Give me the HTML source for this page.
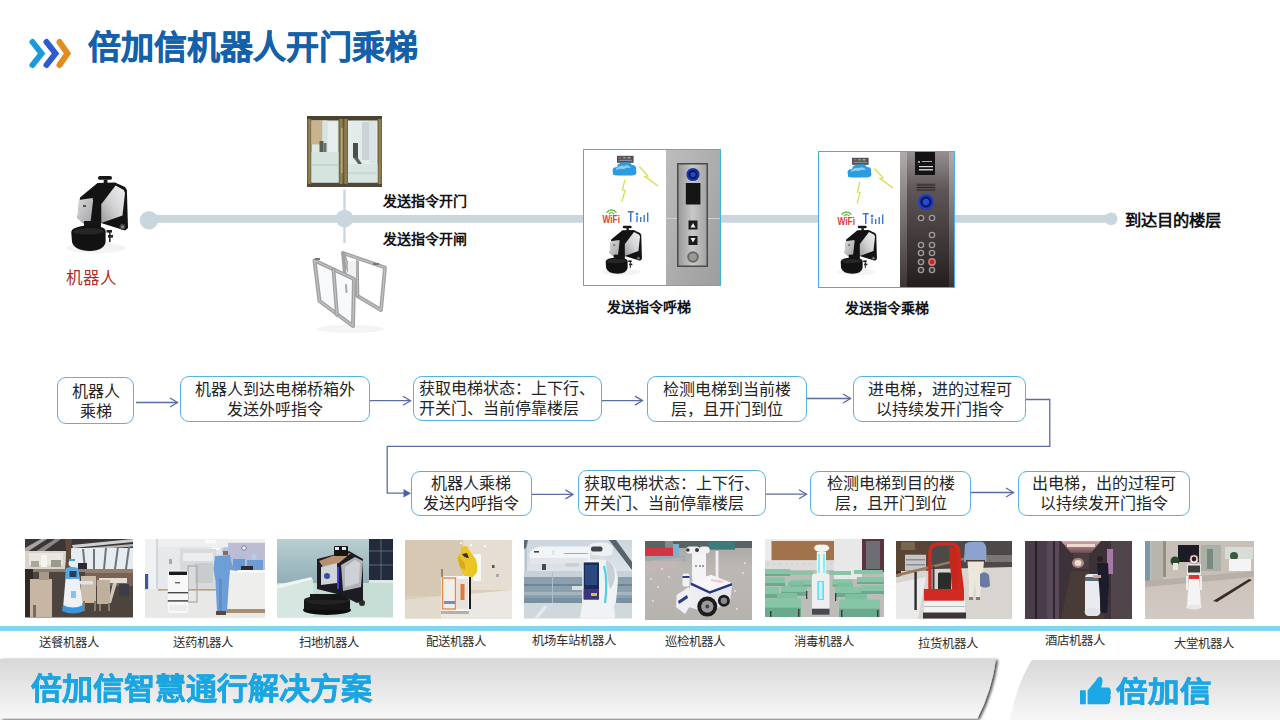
<!DOCTYPE html>
<html lang="zh-CN"><head><meta charset="utf-8">
<style>
*{margin:0;padding:0;box-sizing:border-box}
html,body{width:1280px;height:720px;overflow:hidden;background:#fff;font-family:"Liberation Sans",sans-serif;color:#1a1a1a}
.a{position:absolute}
.t{position:absolute;white-space:nowrap}
.box{position:absolute;padding-top:2.6px;border:1.6px solid #55b4da;border-radius:9px;background:#fff;display:flex;align-items:center;justify-content:center;text-align:center;font-size:16px;line-height:20px;color:#242424;white-space:nowrap}
.cap{position:absolute;white-space:nowrap;font-size:14px;line-height:16px;font-weight:bold;color:#111}
.lab{position:absolute;white-space:nowrap;font-size:12.4px;line-height:14px;color:#2e2e2e;margin:1.5px 0 0 -0.6px}
.ph{position:absolute;overflow:hidden}
</style></head><body>

<svg width="0" height="0" style="position:absolute">
<defs>
<filter id="soft" x="-0.05" y="-0.05" width="1.1" height="1.1"><feGaussianBlur stdDeviation="0.65"/></filter>
<linearGradient id="silv" x1="1" y1="0" x2="0" y2="1"><stop offset="0" stop-color="#f0f0f2"/><stop offset="0.5" stop-color="#d4d4d6"/><stop offset="1" stop-color="#9c9c9e"/></linearGradient>
<linearGradient id="silv2" x1="0" y1="0" x2="1" y2="1"><stop offset="0" stop-color="#d8d8da"/><stop offset="1" stop-color="#a4a4a6"/></linearGradient>
<symbol id="rob" viewBox="0 0 70 85">
  <ellipse cx="32" cy="78" rx="30" ry="5" fill="#f3f3f3"/>
  <rect x="34" y="6" width="14" height="3.8" rx="1.9" fill="#161616"/>
  <rect x="39.7" y="9.5" width="3.8" height="5.5" fill="#1e1e1e"/>
  <polygon points="16,27.4 33.5,13 51,12.4 61,17 62.9,20 64,58 61,60.5 37,53 36.75,57 22,57 19.4,53 13.5,48" fill="#131313"/>
  <polygon points="37.25,34.25 51.6,15.5 59.75,19.9 61,23 58.5,45.5 37.25,53" fill="url(#silv)"/>
  <polygon points="14.75,29.9 28.5,28 29.1,30.5 26.6,51.75 17.9,53 13.5,48" fill="url(#silv2)"/>
  <rect x="19" y="35" width="3" height="2" fill="#555"/>
  <rect x="20" y="51" width="17" height="9" fill="#161616"/>
  <path d="M7.25,62 Q8,56.5 24,55.5 Q41,55.5 41.6,61 L41.6,72 Q40,80.5 26,81 Q10,80.5 8,72 Z" fill="#121212"/>
  <path d="M9,62 Q10,58.5 24,58 Q39,58 40,61.5 Q38,64 24,64.5 Q10,64 9,62 Z" fill="#262626"/>
  <circle cx="58.5" cy="56.75" r="3" fill="#3c3c3c"/>
  <circle cx="58.5" cy="56.75" r="1.5" fill="#888"/>
  <rect x="42.5" y="60" width="5.5" height="2.6" fill="#222"/>
  <rect x="44" y="65" width="5" height="2.6" fill="#222"/>
  <rect x="45" y="62" width="1.6" height="10" fill="#2a2a2a"/>
</symbol>
<symbol id="cloudset" viewBox="0 0 80 80">
  <rect x="34" y="6.8" width="16.6" height="7" fill="#4a4f58"/>
  <rect x="35.5" y="8" width="3" height="1.5" fill="#e05050"/><rect x="40" y="8" width="3" height="1.5" fill="#50c060"/><rect x="44.5" y="8" width="3" height="1.5" fill="#e0a040"/>
  <rect x="35.5" y="10.8" width="13.5" height="1.2" fill="#8890a0"/>
  <path d="M30,24 Q28,18 34,18 Q35,13 41,14 Q46,11 49,16 Q54,16 53,21 Q55,26 49,26.5 L34,26.5 Q29,26.5 30,24 Z" fill="#2d9be0"/>
  <path d="M33,20 Q36,16 41,17 Q46,15 48,19 Q44,18 41,20 Q37,19 33,21 Z" fill="#8ad0f5"/>
  <polyline points="56.4,17.5 65,27 62,27.5 75,37" fill="none" stroke="#d4dc50" stroke-width="1.2"/>
  <polyline points="41.8,31 39.5,41 42,41.5 39,52.5" fill="none" stroke="#d4dc50" stroke-width="1.2"/>
  <text x="19.5" y="74" font-family="Liberation Sans" font-weight="bold" font-size="10.5" fill="#e0402a" textLength="17.5" lengthAdjust="spacingAndGlyphs">WiFi</text>
  <path d="M23.5,63.5 Q28.5,58.5 33.5,63.5" fill="none" stroke="#60c040" stroke-width="1.4"/>
  <path d="M25.8,65 Q28.5,62.3 31.2,65" fill="none" stroke="#60c040" stroke-width="1.2"/>
  <g fill="#3a78d0">
    <rect x="44.7" y="62" width="6" height="1.5"/><rect x="47" y="62" width="1.5" height="11"/>
    <circle cx="54" cy="65" r="1.3"/><rect x="53.3" y="67" width="1.4" height="6"/>
    <rect x="57" y="68" width="1.4" height="5"/><rect x="60.5" y="66" width="1.4" height="7"/><rect x="64" y="63.5" width="1.4" height="9.5"/>
  </g>
</symbol>
</defs></svg>

<!-- title chevrons -->
<svg class="a" style="left:0;top:0" width="1280" height="720" viewBox="0 0 1280 720">
  <g fill="none" stroke-width="6" stroke-linecap="round" stroke-linejoin="miter">
    <polyline points="32.5,42 41.5,53.5 32.5,65" stroke="#1d9bd7"/>
    <polyline points="46.5,42 55.5,53.5 46.5,65" stroke="#2f5ad0"/>
    <polyline points="59.5,42 67.5,53.5 59.5,65" stroke="#e38b1f"/>
  </g>
  <!-- timeline -->
  <rect x="149" y="215" width="962" height="7.8" fill="#c9d6de"/>
  <rect x="343.3" y="189.5" width="2.4" height="53.5" fill="#c9d6de"/>
  <circle cx="149" cy="220.2" r="9.2" fill="#c9d6de"/>
  <circle cx="344.5" cy="218.5" r="8.8" fill="#c9d6de"/>
  <circle cx="1111.2" cy="218.8" r="6.3" fill="#c9d6de"/>
  <!-- flow connectors -->
  <g stroke="#5a6da2" stroke-width="1.3" fill="none">
    <line x1="136" y1="402.5" x2="177.5" y2="402.5"/>
    <polyline points="170,398 177.5,402.5 170,407"/>
    <line x1="370" y1="400.7" x2="410.5" y2="400.7"/>
    <polyline points="403,396.2 410.5,400.7 403,405.2"/>
    <line x1="602" y1="400.6" x2="642.5" y2="400.6"/>
    <polyline points="635,396.1 642.5,400.6 635,405.1"/>
    <line x1="807" y1="398.5" x2="850.5" y2="398.5"/>
    <polyline points="843,394 850.5,398.5 843,403"/>
    <polyline points="1026,399.5 1049.8,399.5 1049.8,446.3 387.2,446.3 387.2,493.2 404,493.2"/>
    <line x1="531.5" y1="494.4" x2="573" y2="494.4"/>
    <polyline points="565.5,489.9 573,494.4 565.5,498.9"/>
    <line x1="766" y1="494.2" x2="806.5" y2="494.2"/>
    <polyline points="799,489.7 806.5,494.2 799,498.7"/>
    <line x1="971" y1="492.5" x2="1013.5" y2="492.5"/>
    <polyline points="1006,488 1013.5,492.5 1006,497"/>
  </g>
  <polygon points="403.5,489 411,493.2 403.5,497.4" fill="#4a62a8"/>
</svg>

<div class="t" style="left:88px;top:29.5px;font-size:33px;line-height:36px;font-weight:bold;color:#1461aa;-webkit-text-stroke:0.5px #1461aa">倍加信机器人开门乘梯</div>

<!-- images in timeline -->
<svg class="a" style="left:64px;top:170px" width="70" height="85"><use href="#rob"/></svg>
<div class="t" style="left:66px;top:268.5px;font-size:16.5px;line-height:18px;color:#b02a2a">机器人</div>
<svg class="a" style="left:307px;top:116px" width="75" height="71" viewBox="0 0 75 71">
  <defs><linearGradient id="brz" x1="0" y1="0" x2="1" y2="0"><stop offset="0" stop-color="#5e5232"/><stop offset="0.5" stop-color="#9a8a58"/><stop offset="1" stop-color="#6a5c38"/></linearGradient></defs>
  <rect width="75" height="71" fill="#6e6040"/>
  <rect x="0" y="0" width="75" height="4.5" fill="#4c4230"/>
  <rect x="0" y="66.5" width="75" height="4.5" fill="#52483a"/>
  <rect x="0" y="3" width="4.5" height="65" fill="url(#brz)"/>
  <rect x="70.5" y="3" width="4.5" height="65" fill="url(#brz)"/>
  <rect x="31.5" y="3" width="5" height="65" fill="url(#brz)"/>
  <rect x="36.5" y="3" width="4.5" height="65" fill="url(#brz)"/>
  <g filter="url(#soft)">
  <rect x="4.5" y="4.5" width="27" height="62" fill="#dce8e4"/>
  <rect x="4.5" y="4.5" width="11" height="24" fill="#c9b38c"/>
  <rect x="15.5" y="4.5" width="5" height="36" fill="#d8e2e2"/>
  <rect x="21" y="6" width="9" height="30" fill="#e6eeee"/>
  <rect x="4.5" y="36" width="27" height="30.5" fill="#d6e4e0"/>
  <rect x="4.5" y="48" width="27" height="2" fill="#c4d4d0"/>
  <rect x="12.5" y="25" width="4" height="11" fill="#5a5e56"/>
  <rect x="16.5" y="27" width="3" height="9" fill="#6e706a"/>
  <rect x="41" y="4.5" width="29.5" height="62" fill="#e2ecea"/>
  <rect x="55" y="6" width="7" height="38" fill="#c8d4d6"/>
  <rect x="62" y="5" width="7" height="42" fill="#dae4e6"/>
  <rect x="46" y="27" width="5" height="15" fill="#4e4e4c"/>
  <polygon points="46,41 51,42 55,48 52,49" fill="#5e5e5c"/>
  <rect x="41" y="48" width="29.5" height="18.5" fill="#d8e6e2"/>
  <rect x="41" y="56" width="29.5" height="2" fill="#c8d8d4"/>
  </g>
  <rect x="34" y="12" width="1.6" height="45" fill="#b8a878"/>
  <rect x="37.5" y="12" width="1.6" height="45" fill="#8a7a50"/>
</svg>
<svg class="a" style="left:305px;top:245px" width="90" height="90" viewBox="0 0 90 90">
  <ellipse cx="45" cy="84" rx="34" ry="4" fill="#f4f4f4"/>
  <g fill="none" stroke-linejoin="round" stroke-linecap="round">
    <polygon points="38,8 80,22.5 76,65 52.5,51" stroke="#a2a2a4" stroke-width="3.8"/>
    <polygon points="38,8 80,22.5 76,65 52.5,51" stroke="#c2c2c4" stroke-width="1.2"/>
    <line x1="38" y1="8" x2="41" y2="44" stroke="#a2a2a4" stroke-width="3.6"/>
    <line x1="52" y1="17" x2="52.5" y2="51" stroke="#9a9a9c" stroke-width="3.6"/>
    <line x1="52" y1="17" x2="52.5" y2="51" stroke="#c0c0c2" stroke-width="1.2"/>
  </g>
  <rect x="43" y="16" width="8" height="22" fill="#eef2f2"/>
  <g fill="none" stroke-linejoin="round" stroke-linecap="round">
    <polygon points="9.5,15.5 49,34 48,81 14.5,56" fill="#f8f9fa" stroke="#a0a0a2" stroke-width="4"/>
    <polygon points="9.5,15.5 49,34 48,81 14.5,56" stroke="#c4c4c6" stroke-width="1.2"/>
    <line x1="28.5" y1="25" x2="32" y2="70" stroke="#a0a0a2" stroke-width="3.8"/>
    <line x1="28.5" y1="25" x2="32" y2="70" stroke="#c4c4c6" stroke-width="1.2"/>
    <line x1="41" y1="40" x2="41.5" y2="47" stroke="#a8a8a8" stroke-width="2"/>
  </g>
  <rect x="10" y="13" width="5" height="2" fill="#777"/>
  <rect x="68" y="18" width="6" height="2" fill="#777"/>
</svg>
<div class="cap" style="left:383px;top:193px">发送指令开门</div>
<div class="cap" style="left:383px;top:231px">发送指令开闸</div>

<div class="a" style="left:583px;top:149px;width:138px;height:137px;border:1.5px solid #43b3dc;background:#fff;overflow:hidden">
  <svg class="a" style="left:-1px;top:-1px" width="80" height="80"><use href="#cloudset"/></svg>
  <svg class="a" style="left:82px;top:-2.5px" width="56" height="140" viewBox="0 0 56 140">
    <defs><linearGradient id="wg1" x1="0" y1="0" x2="1" y2="1"><stop offset="0" stop-color="#bdbdbd"/><stop offset="1" stop-color="#9c9c9c"/></linearGradient>
    <linearGradient id="pg1" x1="0" y1="0" x2="1" y2="0"><stop offset="0" stop-color="#9a9a9a"/><stop offset="0.5" stop-color="#c8c8c8"/><stop offset="1" stop-color="#a4a4a4"/></linearGradient></defs>
    <rect width="56" height="140" fill="url(#wg1)"/>
    <rect x="0" y="70" width="56" height="1" fill="#d0d0d0"/>
    <rect x="11" y="15" width="31" height="104" fill="#4a4a4a"/>
    <rect x="12.5" y="16.5" width="28" height="101" fill="url(#pg1)"/>
    <circle cx="27" cy="26.5" r="6.6" fill="#1838a8"/>
    <circle cx="27" cy="26.5" r="4.6" fill="#0a1860"/>
    <circle cx="27" cy="26.5" r="2.6" fill="#2848c0"/>
    <rect x="19.8" y="35" width="14.6" height="21.5" fill="#151515"/>
    <rect x="22.5" y="72.5" width="9" height="9" fill="#1a1a1a"/>
    <polygon points="24.5,79.5 27,75 29.5,79.5" fill="#f0f0f0"/>
    <rect x="22.5" y="88" width="9" height="9" fill="#1a1a1a"/>
    <polygon points="24.5,90 27,94.5 29.5,90" fill="#f0f0f0"/>
    <circle cx="27" cy="109" r="5.8" fill="#6a6a6a"/>
    <circle cx="27" cy="109" r="3.8" fill="#9a9a90"/>
  </svg>
  <svg class="a" style="left:16.5px;top:71.5px" width="44.8" height="54.4" viewBox="0 0 70 85"><use href="#rob"/></svg>
</div>
<div class="cap" style="left:607px;top:299px">发送指令呼梯</div>
<div class="a" style="left:818px;top:151px;width:137px;height:137px;border:1.5px solid #43b3dc;background:#fff;overflow:hidden">
  <svg class="a" style="left:-1px;top:-1px" width="80" height="80"><use href="#cloudset"/></svg>
  <svg class="a" style="left:81px;top:-4px" width="56" height="142" viewBox="0 0 56 142">
    <defs><linearGradient id="dg2" x1="0" y1="0" x2="0" y2="1"><stop offset="0" stop-color="#9a9494"/><stop offset="0.3" stop-color="#5e5656"/><stop offset="1" stop-color="#221c1c"/></linearGradient>
    <linearGradient id="sg2" x1="0" y1="0" x2="0" y2="1"><stop offset="0" stop-color="#b4aeae"/><stop offset="1" stop-color="#3a3232"/></linearGradient></defs>
    <rect width="56" height="142" fill="url(#dg2)"/>
    <rect x="0" y="0" width="7" height="142" fill="url(#sg2)"/>
    <rect x="49" y="0" width="7" height="142" fill="url(#sg2)"/>
    <rect x="15" y="3" width="20" height="24" fill="#141414"/>
    <circle cx="19" cy="14" r="1" fill="#ccc"/><rect x="22" y="13" width="10" height="1" fill="#aaa"/><rect x="19" y="18" width="14" height="1.2" fill="#d8d8d8"/><rect x="19" y="21" width="14" height="1.5" fill="#c8c8c8"/>
    <rect x="16" y="35" width="20" height="9" fill="#5a5454"/><g fill="#2a2626"><rect x="17" y="36.5" width="18" height="1"/><rect x="17" y="39" width="18" height="1"/><rect x="17" y="41.5" width="18" height="1"/></g>
    <circle cx="26" cy="54" r="8" fill="#2040c0"/>
    <circle cx="26" cy="54" r="5.8" fill="#0c1a6a"/>
    <circle cx="26" cy="54" r="3.2" fill="#2a4ad0"/>
    <circle cx="21" cy="70" r="3.3" fill="#a09a94"/><circle cx="21" cy="70" r="1.9" fill="#3a3434"/><circle cx="32" cy="70" r="3.3" fill="#a09a94"/><circle cx="32" cy="70" r="1.9" fill="#3a3434"/><circle cx="32" cy="87" r="3.3" fill="#a09a94"/><circle cx="32" cy="87" r="1.9" fill="#3a3434"/><circle cx="21" cy="97" r="3.3" fill="#a09a94"/><circle cx="21" cy="97" r="1.9" fill="#3a3434"/><circle cx="32" cy="97" r="3.3" fill="#a09a94"/><circle cx="32" cy="97" r="1.9" fill="#3a3434"/><circle cx="21" cy="105" r="3.3" fill="#a09a94"/><circle cx="21" cy="105" r="1.9" fill="#3a3434"/><circle cx="32" cy="105" r="3.3" fill="#a09a94"/><circle cx="32" cy="105" r="1.9" fill="#3a3434"/><circle cx="21" cy="114" r="3.3" fill="#a09a94"/><circle cx="21" cy="114" r="1.9" fill="#3a3434"/><circle cx="21" cy="122" r="3.3" fill="#a09a94"/><circle cx="21" cy="122" r="1.9" fill="#3a3434"/><circle cx="32" cy="122" r="3.3" fill="#a09a94"/><circle cx="32" cy="122" r="1.9" fill="#3a3434"/>
    <circle cx="32" cy="114" r="3.9" fill="#d08080"/><circle cx="32" cy="114" r="2.4" fill="#c02828"/>
  </svg>
  <svg class="a" style="left:16.5px;top:70px" width="44.8" height="54.4" viewBox="0 0 70 85"><use href="#rob"/></svg>
</div>
<div class="cap" style="left:845px;top:300px">发送指令乘梯</div>
<div class="t" style="left:1125px;top:211.3px;font-size:16.3px;line-height:18px;font-weight:bold;color:#111">到达目的楼层</div>

<!-- flowchart boxes -->
<div class="box" style="left:57px;top:377px;width:77px;height:46.5px">机器人<br>乘梯</div>
<div class="box" style="left:180px;top:376px;width:190px;height:45.5px">机器人到达电梯桥箱外<br>发送外呼指令</div>
<div class="box" style="left:413px;top:375.5px;width:189px;height:45px;justify-content:flex-start;padding-left:5px;text-align:left">获取电梯状态：上下行、<br>开关门、当前停靠楼层</div>
<div class="box" style="left:647px;top:376px;width:160px;height:45.5px">检测电梯到当前楼<br>层，且开门到位</div>
<div class="box" style="left:853px;top:376px;width:173px;height:45.5px">进电梯，进的过程可<br>以持续发开门指令</div>
<div class="box" style="left:411px;top:470.5px;width:120.5px;height:45px">机器人乘梯<br>发送内呼指令</div>
<div class="box" style="left:577.5px;top:469.5px;width:188.5px;height:46px;justify-content:flex-start;padding-left:5px;text-align:left">获取电梯状态：上下行、<br>开关门、当前停靠楼层</div>
<div class="box" style="left:810px;top:470.5px;width:161px;height:45px">检测电梯到目的楼<br>层，且开门到位</div>
<div class="box" style="left:1018px;top:470.5px;width:172px;height:45px">出电梯，出的过程可<br>以持续发开门指令</div>

<!-- photo strip -->
<svg class="a" style="left:25px;top:539px" width="108" height="78.5" viewBox="0 0 108 78.5" preserveAspectRatio="none"><g filter="url(#soft)">
<rect width="108" height="78.5" fill="#4e443c"/>
<rect width="108" height="13" fill="#3a3634"/>
<polygon points="0,9 16,0 22,0 2,13 0,13" fill="#a8a6a4"/>
<polygon points="10,13 30,0 36,0 18,13" fill="#8a8886"/>
<polygon points="47,6 108,0 108,3 48,9" fill="#d0d0d0"/>
<polygon points="48,10 108,5 108,7.5 49,12" fill="#b8b8b8"/>
<rect x="0" y="12" width="44" height="19" fill="#d8d4cc"/>
<rect x="4" y="14" width="34" height="12" fill="#ebe6de"/>
<rect x="6" y="22" width="8" height="6" fill="#a8a89a"/><rect x="26" y="21" width="10" height="7" fill="#9a9a8c"/><rect x="16" y="16" width="6" height="12" fill="#f4f4f0"/>
<rect x="44" y="9" width="64" height="22" fill="#e6ecf0"/>
<g fill="#70747a"><polygon points="57,10 59,10 61,30 59,30"/><polygon points="68,10 70,10 70,30 68,30"/><polygon points="80,9 82,9 80,30 78,30"/><polygon points="92,8 94,8 91,30 89,30"/><polygon points="103,8 105,8 102,30 100,30"/></g>
<rect x="53" y="24" width="9" height="6" fill="#2a2a30"/>
<path d="M40,0 L47,0 Q45,15 47,30 L40,30 Q42,15 40,0 Z" fill="#5e4a3a"/>
<rect x="0" y="30" width="108" height="3" fill="#8e7e70"/>
<rect x="60" y="31" width="48" height="16" fill="#7a6252"/>
<rect x="60" y="31" width="48" height="3" fill="#927e6c"/>
<rect x="74" y="39" width="28" height="5" fill="#e2dcd4"/>
<polygon points="88,44 92,44 86,64 83,64" fill="#cfc6bc"/>
<rect x="94" y="45" width="10" height="12" fill="#3e3e4a"/>
<rect x="0" y="30" width="8" height="48" fill="#2e2a28"/>
<rect x="5" y="40" width="22" height="38" fill="#c6b6a2"/>
<rect x="8" y="66" width="3" height="12" fill="#7a6a5a"/>
<rect x="14" y="33" width="10" height="8" fill="#a89888"/>
<rect x="56" y="37" width="15" height="27" fill="#cbbcaa"/>
<rect x="58" y="62" width="2" height="10" fill="#8a7a6a"/><rect x="69" y="62" width="2" height="10" fill="#8a7a6a"/>
<rect x="72" y="41" width="13" height="24" fill="#bfb09e"/>
<rect x="74" y="65" width="2" height="7" fill="#8a7a6a"/><rect x="83" y="64" width="2" height="8" fill="#8a7a6a"/>
<circle cx="47" cy="24.5" r="3.4" fill="#e8eef4"/>
<rect x="44" y="20" width="6" height="2" fill="#4a9ee0"/>
<path d="M41,29 Q47,27 53,29 L55,40 L40,40 Z" fill="#58a8e8"/>
<rect x="44.5" y="32" width="7" height="6" fill="#2a3a58"/>
<path d="M40.5,40 L54.5,40 L58,69 L38,69 Z" fill="#eef2f6"/>
<path d="M38,66 Q48,71 58,66 L59,72 Q48,77 37,72 Z" fill="#3a96dc"/>
<rect x="46" y="52" width="5" height="7" fill="#8ac0ec"/>
<rect x="54" y="42" width="14" height="3.5" fill="#dfe3e8"/>
</g></svg>
<svg class="a" style="left:145px;top:539px" width="120" height="78.5" viewBox="0 0 120 78.5" preserveAspectRatio="none"><g filter="url(#soft)">
<rect width="120" height="78.5" fill="#e2e4e6"/>
<rect width="120" height="8" fill="#eeeff0"/>
<rect x="60" y="1" width="10.7" height="3.4" fill="#fbfbfb"/>
<rect x="67" y="8.5" width="8" height="2.4" fill="#fafafa"/>
<rect x="0" y="0" width="12" height="78.5" fill="#f0f1f2"/>
<rect x="11" y="0" width="2" height="60" fill="#d4d6d8"/>
<rect x="0" y="35" width="3.2" height="21" fill="#3a5a9a"/>
<rect x="13" y="8" width="22" height="44" fill="#e6e8ea"/>
<rect x="24" y="20" width="3" height="5" fill="#a8a8b4"/>
<rect x="35" y="10" width="36" height="40" fill="#d8dadc"/>
<rect x="38" y="14" width="30" height="8" fill="#eceeee"/>
<rect x="50" y="24" width="18" height="20" fill="#c8cccc"/>
<rect x="83" y="3.8" width="37" height="28" fill="#bcbcd4"/>
<circle cx="99" cy="9" r="2.2" fill="#f4f4f8" stroke="#5a5a7a" stroke-width="0.7"/>
<rect x="0" y="50" width="120" height="28.5" fill="#e8e8e6"/>
<rect x="13" y="50" width="58" height="1.6" fill="#b8a080"/>
<circle cx="95" cy="16.5" r="2.6" fill="#a8c0e0"/>
<circle cx="109" cy="18" r="3" fill="#b8cce4"/>
<rect x="88" y="20" width="12" height="12" fill="#6a98d0"/>
<rect x="102" y="21" width="16" height="11" fill="#6e9cd4"/>
<rect x="96" y="27" width="12" height="5" fill="#2a2a34"/>
<rect x="81" y="31.5" width="39" height="40" fill="#eeeeec"/>
<rect x="81" y="31" width="39" height="2.5" fill="#fafafa"/>
<rect x="81" y="70" width="39" height="4" fill="#a88e70"/>
<circle cx="80.5" cy="11.8" r="3.6" fill="#b0c6e4"/>
<rect x="78" y="12" width="5" height="4" fill="#8a6a58"/>
<path d="M70,17 L85,16 L87,26 L93,29 L92,32 L85,31 L84,42 L82,73 L72,73 L70.5,42 L68.5,30 Z" fill="#6e9ed8"/>
<rect x="74" y="40" width="3" height="33" fill="#5e8ec8"/>
<rect x="71" y="72" width="10" height="4" fill="#5a4a3e"/>
<rect x="43" y="27" width="9" height="36" fill="none" stroke="#a8a8a8" stroke-width="1.2"/>
<rect x="22.8" y="31.5" width="20.2" height="42.5" rx="2.5" fill="#f8f8f8"/>
<rect x="24" y="32.6" width="18" height="3.4" fill="#1e1e1e"/>
<rect x="22.8" y="53" width="20.2" height="1.4" fill="#4a4a4a"/>
<rect x="22.8" y="61.2" width="20.2" height="1.4" fill="#3a3a3a"/>
<rect x="30" y="43" width="5" height="1.4" fill="#666"/>
<rect x="24" y="66" width="18" height="6" fill="#ececec"/>
</g></svg>
<svg class="a" style="left:277px;top:539px" width="116" height="78.5" viewBox="0 0 116 78.5" preserveAspectRatio="none"><defs><linearGradient id="p3w" x1="0" y1="0" x2="0" y2="1"><stop offset="0" stop-color="#b9cfd0"/><stop offset="1" stop-color="#92aeb8"/></linearGradient></defs><g filter="url(#soft)">
<rect width="116" height="78.5" fill="#c6ddd6"/>
<rect width="116" height="44" fill="url(#p3w)"/>
<polygon points="0,46 34,38 36,41 0,50" fill="#eef4f2"/>
<polygon points="0,50 36,41 36,78.5 0,78.5" fill="#d6e6e0"/>
<rect x="92" y="0" width="24" height="41" fill="#222a3a"/>
<g stroke="#8090a0" stroke-width="0.6"><line x1="92" y1="12" x2="116" y2="12"/><line x1="92" y1="26" x2="116" y2="26"/><line x1="104" y1="0" x2="104" y2="41"/></g>
<rect x="92" y="41" width="24" height="3" fill="#dce8e6"/>
<ellipse cx="50" cy="71" rx="24" ry="5" fill="#111"/>
<rect x="27" y="61" width="46" height="10" fill="#141414"/>
<ellipse cx="50" cy="61" rx="23" ry="4.5" fill="#222"/>
<rect x="33" y="55" width="38" height="6" fill="#181818"/>
<polygon points="40,20 72,12 86,20 86,62 80,64 64,56 40,50" fill="#1a1a22"/>
<polygon points="64,26 78,18 86,22 84,48 66,52" fill="#b0b4b8"/>
<polygon points="68,28 78,21 83,24 82,44 68,48" fill="#cdd0d4"/>
<polygon points="42,22 58,16 74,14 62,24 46,28" fill="#b89070"/>
<polygon points="44,28 60,24 60,44 44,46" fill="#d0d4d8"/>
<circle cx="50" cy="37" r="3" fill="#3050a0"/>
<rect x="60" y="28" width="2" height="22" fill="#4040e0"/>
<rect x="57" y="7" width="14" height="10" rx="1" fill="#161616"/>
<rect x="58" y="8" width="4" height="3" fill="#e8e8e8"/><rect x="65" y="8" width="4" height="3" fill="#e8e8e8"/>
<circle cx="85" cy="64" r="3" fill="#2a2a2a"/>
</g></svg>
<svg class="a" style="left:405px;top:540px" width="107" height="78.5" viewBox="0 0 107 78.5" preserveAspectRatio="none"><g filter="url(#soft)">
<rect width="107" height="78.5" fill="#dccfba"/>
<rect x="0" y="0" width="60" height="56" fill="#d6c8b2"/>
<rect x="58" y="0" width="49" height="50" fill="#e6ded2"/>
<circle cx="66" cy="5" r="1.2" fill="#fff"/><circle cx="80" cy="6" r="1" fill="#fff"/><circle cx="56" cy="3" r="1" fill="#fff"/>
<rect x="68" y="14" width="8" height="27" fill="#f8f8f4"/>
<rect x="87" y="25" width="2.5" height="3" fill="#555"/>
<rect x="91" y="34" width="3" height="3" fill="#aaa"/>
<polygon points="0,60 107,50 107,78.5 0,78.5" fill="#ebe7e2"/>
<polygon points="0,60 36,56 36,78.5 0,78.5" fill="#e2dacd"/>
<rect x="62" y="36" width="4" height="33" fill="#1e1e1e"/>
<path d="M56,12 Q55,6 59,6 Q63,6 64,10 L70,18 Q73,22 72,32 L68,37 L60,37 Q55,30 54,22 Q50,18 54,15 Z" fill="#e9c625"/>
<path d="M54,16 L60,24 L60,30 L56,28 Q52,22 54,16 Z" fill="#d6ac1c"/>
<path d="M57,14 Q59,18 64,18 L62,13 Z" fill="#3a3020"/>
<rect x="36" y="36" width="28" height="36" rx="1" fill="#f6f6f6"/>
<rect x="37.5" y="38" width="13" height="31" fill="#f2eeea" stroke="#e88848" stroke-width="1.4"/>
<rect x="52" y="39" width="11" height="30" fill="#e6e2de"/>
<rect x="55.5" y="44" width="4" height="16" fill="#e07838"/>
<rect x="39" y="61" width="11" height="3" fill="#6f8fc0"/>
<rect x="36" y="71" width="28" height="3" fill="#b8b0a8"/>
<rect x="36" y="29" width="2" height="8" fill="#888"/>
</g></svg>
<svg class="a" style="left:524px;top:540px" width="108" height="78.5" viewBox="0 0 108 78.5" preserveAspectRatio="none"><defs><linearGradient id="p5s" x1="0" y1="0" x2="0" y2="1"><stop offset="0" stop-color="#cdd5dd"/><stop offset="1" stop-color="#dde3e8"/></linearGradient></defs><g filter="url(#soft)">
<rect width="108" height="78.5" fill="#d0d8dc"/>
<rect width="108" height="31" fill="url(#p5s)"/>
<polygon points="0,0 4,0 2,9 0,9" fill="#5a6a78"/>
<rect x="1" y="8" width="2" height="24" fill="#b8c4cc"/>
<polygon points="85,0 92,0 108,22 108,30" fill="#55636e"/>
<path d="M5,15.5 Q6,8.5 16,6.5 L66,6.5 L66,24 L18,24 Q6,22.5 5,15.5 Z" fill="#f2f4f6"/>
<rect x="10" y="11" width="5" height="1.6" fill="#3a4450"/>
<rect x="28" y="10" width="2.5" height="5" fill="#dfe3e6"/>
<rect x="40" y="13" width="24" height="1" fill="#a0aab4"/>
<rect x="6" y="18" width="58" height="6" fill="#e2e6ea"/>
<rect x="41" y="23" width="14" height="3.5" rx="1.7" fill="#c8d0d6"/>
<rect x="18" y="24" width="4" height="6" fill="#404a54"/>
<rect x="0" y="31" width="108" height="6" fill="#c9d1d8"/>
<rect x="0" y="37" width="108" height="26" fill="#8aa0ae"/>
<rect x="0" y="44" width="108" height="2" fill="#6e8494"/>
<rect x="0" y="52" width="108" height="3" fill="#a4b6c2"/>
<rect x="0" y="58" width="108" height="5" fill="#7890a0"/>
<rect x="28" y="32" width="1" height="31" fill="#b0bec8"/>
<rect x="48" y="46" width="16" height="4" fill="#d8dee2"/>
<polygon points="10,78.5 20,66 24,66 14,78.5" fill="#e6eaec"/>
<path d="M66,4 Q70,2 80,2.5 Q89,3.5 89,9 L88,15 Q80,17 68,15.5 Q65,10 66,4 Z" fill="#eef0f2"/>
<rect x="67" y="6.5" width="11.5" height="5" rx="2" fill="#3c4650"/>
<rect x="68" y="15.5" width="9" height="5" fill="#d8dcdf"/>
<path d="M60,21 Q70,18 82,20 Q92,22 94,40 L92,62 L90,66 L91,78.5 L56,78.5 L58,64 L58.5,24 Z" fill="#f0f2f4"/>
<rect x="59.7" y="22.4" width="15.3" height="37" fill="#1c2c5a"/>
<rect x="61" y="25" width="12" height="20" fill="#2a4a80"/>
<rect x="59.7" y="49" width="15.3" height="10.5" fill="#3a3680"/>
<rect x="67" y="53" width="6" height="3" fill="#d8c040"/>
<path d="M82,20 Q91,23 91,36 Q90,46 86,49 Q83,40 82,20 Z" fill="#c8d0d6"/>
<path d="M80,26 Q84,40 81,63" fill="none" stroke="#48d0e8" stroke-width="2.2"/>
</g></svg>
<svg class="a" style="left:645px;top:541px" width="107" height="79" viewBox="0 0 107 79" preserveAspectRatio="none"><defs><linearGradient id="p6f" x1="0" y1="0" x2="0" y2="1"><stop offset="0" stop-color="#a8a6a4"/><stop offset="0.35" stop-color="#bcb8b4"/><stop offset="1" stop-color="#b6b2ae"/></linearGradient></defs><g filter="url(#soft)">
<rect width="107" height="79" fill="url(#p6f)"/>
<rect width="107" height="7" fill="#5a6464"/>
<rect x="63" y="0.7" width="27" height="8" fill="#3c7a7c"/>
<rect x="20" y="0" width="8" height="7" fill="#8a8a8a"/>
<rect x="0" y="6.6" width="33" height="8.4" fill="#d43444"/>
<rect x="28" y="3" width="6" height="12" fill="#7ab0d0"/>
<rect x="0" y="15" width="40" height="5" fill="#9aa8b0"/>
<polygon points="0,20 40,16 30,28 0,30" fill="#c4b8b4" opacity="0.6"/>
<g fill="#e8e8e8"><circle cx="6" cy="38" r="0.9"/><circle cx="13" cy="46" r="0.9"/><circle cx="24" cy="36" r="0.9"/><circle cx="90" cy="50" r="0.9"/><circle cx="98" cy="32" r="0.9"/><circle cx="8" cy="60" r="0.9"/><circle cx="17" cy="28" r="0.9"/><circle cx="92" cy="68" r="0.9"/><circle cx="100" cy="22" r="0.9"/></g>
<rect x="70.6" y="10" width="2.8" height="31" fill="#f4eef4"/>
<rect x="47" y="11" width="14" height="29" rx="2" fill="#f4f4f6"/>
<circle cx="51" cy="25" r="0.8" fill="#333"/><circle cx="55" cy="25" r="0.8" fill="#333"/><circle cx="58" cy="25" r="0.8" fill="#333"/>
<rect x="54" y="5.4" width="10.7" height="7" rx="3.5" fill="#f2f2f4"/>
<rect x="41" y="5.4" width="14" height="7" rx="3.5" fill="#f0f0f2"/>
<circle cx="42.8" cy="9" r="1.8" fill="#38384a"/><circle cx="52" cy="9" r="2" fill="#38384a"/>
<polygon points="45.8,40.8 65.9,33.8 87,42 64.7,50.3" fill="#f6f6f8"/>
<polygon points="66,38 80,40 76,42 66,40" fill="#f0c8d0"/>
<polygon points="45.8,43 64.7,51.5 64,72 40,65" fill="#eeeef2"/>
<polygon points="64.7,51.5 87,44.4 85,61 64,71" fill="#e6e6ec"/>
<polygon points="45.8,41.5 64.7,50.3 87,42 87,44.6 64.7,52.8 45.8,44" fill="#24348a"/>
<rect x="37.5" y="32.6" width="7" height="13" rx="2" fill="#f2f2f4"/>
<rect x="37.5" y="35" width="7" height="2" fill="#2a3a88"/>
<polygon points="31.6,54 44,46 48,60 40,73 31,66" fill="#f0f0f4"/>
<polygon points="33,60 42,54 43,57 34,63" fill="#2a3a88"/>
<circle cx="62.3" cy="65.6" r="10" fill="#1a1a1a"/>
<circle cx="62.3" cy="65.6" r="6.2" fill="#9a9a9e"/>
<circle cx="62.3" cy="65.6" r="2" fill="#444"/>
<circle cx="78.9" cy="59.7" r="6" fill="#1c1c1c"/>
<circle cx="78.9" cy="59.7" r="3.2" fill="#8a8a8a"/>
</g></svg>
<svg class="a" style="left:765px;top:539px" width="119" height="78" viewBox="0 0 119 78" preserveAspectRatio="none"><g filter="url(#soft)">
<rect width="119" height="78" fill="#bcbcb8"/>
<rect x="0" y="0" width="119" height="22" fill="#ecebea"/>
<rect x="6.5" y="2" width="62.5" height="19.4" fill="#a2724c"/>
<rect x="69" y="0" width="28" height="40" fill="#e8e8e8"/>
<rect x="97" y="0" width="22" height="33" fill="#5a3440"/>
<rect x="101" y="2" width="14" height="28" fill="#6e6c74"/>
<rect x="0" y="21.4" width="69" height="9.6" fill="#dcdcdc"/>
<g fill="#c4c4c4"><circle cx="3" cy="25" r="0.7"/><circle cx="9" cy="25" r="0.7"/><circle cx="15" cy="25" r="0.7"/><circle cx="21" cy="25" r="0.7"/><circle cx="27" cy="25" r="0.7"/><circle cx="33" cy="25" r="0.7"/><circle cx="39" cy="25" r="0.7"/><circle cx="45" cy="25" r="0.7"/><circle cx="66" cy="25" r="0.7"/></g>
<g fill="#86c6a6">
<rect x="0" y="30" width="25" height="5"/><rect x="0" y="38" width="20" height="6"/><rect x="0" y="48" width="14" height="7"/>
<rect x="20" y="32" width="28" height="4"/><rect x="25" y="40.7" width="21" height="4.8"/><rect x="16" y="46.8" width="26" height="6"/>
<rect x="0" y="59.5" width="36" height="9"/>
<rect x="64" y="32" width="22" height="4"/><rect x="67.5" y="40.7" width="19.5" height="4.8"/><rect x="70" y="48" width="26.5" height="6"/>
<rect x="74" y="60.6" width="41" height="9"/>
<rect x="89" y="31" width="29" height="4"/><rect x="92" y="38" width="27" height="5"/><rect x="96" y="46" width="23" height="6"/>
</g>
<g fill="#6aaa8c">
<rect x="0" y="35" width="25" height="2"/><rect x="0" y="44" width="20" height="3"/><rect x="0" y="55" width="14" height="4"/>
<rect x="25" y="45.5" width="21" height="2"/><rect x="16" y="52.8" width="26" height="4"/>
<rect x="0" y="68.5" width="36" height="9.5"/>
<rect x="67.5" y="45.5" width="19.5" height="2"/><rect x="70" y="54" width="26.5" height="4"/>
<rect x="74" y="69.6" width="41" height="8.4"/>
<rect x="92" y="43" width="27" height="2"/><rect x="96" y="52" width="23" height="3"/>
</g>
<g fill="#7ebfa0"><rect x="12" y="54" width="20" height="5.5"/><rect x="80" y="55" width="22" height="5.6"/><rect x="23" y="43" width="16" height="3.8"/><rect x="72" y="44" width="16" height="4"/></g>
<g fill="#3a3a3a"><rect x="5" y="72" width="1.5" height="6"/><rect x="33" y="70" width="1.5" height="8"/><rect x="76" y="71" width="1.5" height="7"/><rect x="112" y="71" width="1.5" height="7"/><rect x="41" y="52" width="1.3" height="8"/><rect x="70" y="54" width="1.3" height="8"/></g>
<rect x="47" y="34.7" width="17.5" height="36" rx="2" fill="#eef0f0"/>
<rect x="51.8" y="13" width="9.2" height="22" fill="#f2f4f4"/>
<rect x="53" y="15" width="2" height="19" fill="#7ef0f4"/>
<rect x="58" y="15" width="2" height="19" fill="#7ef0f4"/>
<path d="M49,9 Q50,5 56.5,5.7 Q63,5 64.5,9 Q63,13 56.5,13 Q50,13 49,9 Z" fill="#f4f4f4"/>
<rect x="52.4" y="42" width="6.6" height="19" fill="#64d8f8"/>
<rect x="54" y="43" width="3.4" height="17" fill="#c0f6ff"/>
<rect x="47" y="69.7" width="17.5" height="6" fill="#4a4a52"/>
</g></svg>
<svg class="a" style="left:896px;top:541px" width="116" height="78" viewBox="0 0 116 78" preserveAspectRatio="none"><g filter="url(#soft)">
<rect width="116" height="78" fill="#dad6d2"/>
<rect width="116" height="28" fill="#4e4846"/>
<rect x="0" y="0" width="34" height="30" fill="#5a4434"/>
<rect x="5" y="1" width="14" height="8" fill="#7a6650"/>
<rect x="9" y="13.7" width="21" height="16" fill="#c4c6c8"/>
<rect x="10" y="18" width="19" height="1.5" fill="#8a8e94"/><rect x="10" y="23" width="19" height="1.5" fill="#8a8e94"/>
<rect x="68" y="14" width="48" height="7" fill="#7a7674"/>
<rect x="0" y="30" width="5" height="12" fill="#3a3030"/>
<polygon points="0,36 40,28 116,26 116,78 0,78" fill="#d8d4d0"/>
<polygon points="0,42 30,36 22,78 0,78" fill="#eaeaea"/>
<polygon points="0,33 69,16.5 69,18.8 0,36" fill="#9a7a5a"/>
<rect x="18.4" y="31" width="2.4" height="38" fill="#2e2e2e"/>
<rect x="36.5" y="25" width="2" height="24" fill="#3a3a3a"/>
<polygon points="52.7,5.4 63,8 68,49 56,49" fill="#c8281e"/>
<path d="M34,52 L34,12 Q34,3 43,3 L54,3 Q63,3 63,12 L63,52" fill="none" stroke="#cc2a20" stroke-width="3.4"/>
<rect x="42" y="31.4" width="13" height="21.3" rx="1.5" fill="#2c2e2c"/>
<rect x="27.9" y="48" width="40.1" height="14" fill="#d22a20"/>
<rect x="27.9" y="59.7" width="41" height="12.3" fill="#f2f2f2"/>
<rect x="27.9" y="65" width="41" height="1" fill="#b8b8b8"/>
<rect x="27" y="71.5" width="43" height="6" fill="#3a3636"/>
<path d="M69,3 Q72,0.5 78,0.7 L86,0.7 Q90,2 90.4,8 L90.4,20.8 L68,20.8 Z" fill="#8ca2cf"/>
<rect x="70" y="19" width="19" height="2" fill="#4a3a30"/>
<path d="M71.5,20.6 L88,20.6 L86,40 L84,56 L80,57 L79,40 L77,57 L73,57 L73,40 Z" fill="#ece6dc"/>
<rect x="73" y="56" width="4" height="3" fill="#8a7a6a"/><rect x="80" y="56" width="4" height="3" fill="#8a7a6a"/>
<path d="M84,33 Q89,29 93,34 L94,45 Q89,48 84,45 Z" fill="#6a7aa0"/>
</g></svg>
<svg class="a" style="left:1025px;top:541px" width="107" height="78" viewBox="0 0 107 78" preserveAspectRatio="none"><defs><linearGradient id="p9c" x1="0" y1="0" x2="0" y2="1"><stop offset="0" stop-color="#d8a8a8"/><stop offset="1" stop-color="#6a4a50"/></linearGradient></defs><g filter="url(#soft)">
<rect width="107" height="78" fill="#3c3238"/>
<rect x="0" y="0" width="34" height="78" fill="#4a3e48"/>
<rect x="22" y="0" width="12" height="78" fill="#5a4858"/>
<rect x="10" y="0" width="2" height="78" fill="#2a2228"/>
<rect x="28" y="0" width="2" height="78" fill="#302830"/>
<polygon points="36,0 76,0 66,12 46,12" fill="url(#p9c)"/>
<rect x="42" y="3" width="28" height="3" fill="#f0d8d0"/>
<rect x="48" y="12" width="16" height="16" fill="#4a3e42"/>
<ellipse cx="53" cy="22" rx="6" ry="5" fill="#a88880"/><ellipse cx="53" cy="22" rx="3.5" ry="3" fill="#f0dcd4"/>
<polygon points="46,30 64,30 80,78 36,78" fill="#4a3a36"/>
<rect x="86" y="0" width="21" height="78" fill="#50444c"/>
<rect x="82" y="8" width="6" height="25" fill="#a878a8"/>
<rect x="60" y="33" width="15" height="42" rx="4" fill="#e8ecf0"/>
<rect x="60" y="36" width="15" height="4" fill="#606870"/>
<ellipse cx="67.5" cy="71" rx="8" ry="4" fill="#dfe4ea"/>
<circle cx="75" cy="18" r="3" fill="#2a2024"/>
<path d="M72,22 L83,22 L84,44 L82,72 L76,72 L74,44 Z" fill="#1c1c2a"/>
<rect x="68" y="34" width="8" height="3" fill="#c8a898"/>
</g></svg>
<svg class="a" style="left:1145px;top:541px" width="109" height="78" viewBox="0 0 109 78" preserveAspectRatio="none"><defs><linearGradient id="p10f" x1="0" y1="0" x2="0" y2="1"><stop offset="0" stop-color="#c6beb6"/><stop offset="1" stop-color="#d2cac2"/></linearGradient></defs><g filter="url(#soft)">
<rect width="109" height="78" fill="url(#p10f)"/>
<rect x="0" y="0" width="109" height="36" fill="#c8c0b6"/>
<rect x="0" y="0" width="5" height="40" fill="#7a9aa8"/>
<rect x="6" y="0" width="12" height="40" fill="#b8b4ae"/>
<rect x="18" y="0" width="3" height="36" fill="#9a8e82"/>
<rect x="33" y="4" width="21" height="17" fill="#1e1e26"/>
<circle cx="30" cy="20" r="4.5" fill="#2a4a2a"/>
<rect x="28" y="22" width="5" height="7" fill="#e8e8e8"/>
<rect x="56" y="4" width="20" height="26" fill="#a8b0a8"/>
<rect x="62" y="8" width="6" height="20" fill="#7a8a80"/>
<rect x="80" y="6" width="28" height="12" fill="#d8dcd8"/>
<circle cx="89" cy="15" r="4" fill="#3a5a3a"/>
<rect x="84" y="18" width="22" height="12" fill="#f4f4f4"/>
<polygon points="0,40 109,30 109,36 0,46" fill="#b8b0a6"/>
<polygon points="68,60 104,38 107,39 72,61" fill="#3a2c24"/>
<rect x="45" y="14" width="8" height="9" rx="4" fill="#f0f0f0" stroke="#e06060" stroke-width="0.8"/>
<circle cx="49" cy="18" r="2.4" fill="#222"/>
<rect x="42" y="23" width="14" height="11" fill="#e8e8e8"/>
<rect x="43" y="24.5" width="12" height="7" fill="#3a3a3a"/>
<path d="M44,34 L54,34 L56,66 L42,66 Z" fill="#f4f4f4"/>
<rect x="44" y="34" width="10" height="4" fill="#e03030"/>
<rect x="41" y="35" width="2" height="14" fill="#eee"/><rect x="55" y="35" width="2" height="14" fill="#eee"/>
<ellipse cx="49" cy="66" rx="8" ry="2.5" fill="#e8e8e8"/>
</g></svg>
<div class="a" style="left:0;top:625.5px;width:1280px;height:5.5px;background:#7fd6f0"></div>

<div class="lab" style="left:40px;top:634px">送餐机器人</div>
<div class="lab" style="left:174px;top:634px">送药机器人</div>
<div class="lab" style="left:300px;top:634px">扫地机器人</div>
<div class="lab" style="left:427px;top:633px">配送机器人</div>
<div class="lab" style="left:533px;top:632px">机场车站机器人</div>
<div class="lab" style="left:666px;top:633px">巡检机器人</div>
<div class="lab" style="left:794.5px;top:633px">消毒机器人</div>
<div class="lab" style="left:918.5px;top:635px">拉货机器人</div>
<div class="lab" style="left:1046px;top:632.5px">酒店机器人</div>
<div class="lab" style="left:1175px;top:635px">大堂机器人</div>

<!-- footer -->
<svg class="a" style="left:0;top:640px" width="1280" height="80" viewBox="0 640 1280 80">
  <defs>
    <linearGradient id="fg" x1="0" y1="0" x2="0" y2="1">
      <stop offset="0" stop-color="#d8d8d8"/>
      <stop offset="1" stop-color="#f7f7f7"/>
    </linearGradient>
    <filter id="sh" x="-5%" y="-20%" width="110%" height="140%">
      <feGaussianBlur in="SourceAlpha" stdDeviation="1.7"/>
      <feOffset dx="2" dy="1"/>
      <feComponentTransfer><feFuncA type="linear" slope="0.75"/></feComponentTransfer>
      <feMerge><feMergeNode/><feMergeNode in="SourceGraphic"/></feMerge>
    </filter>
  </defs>
  <path d="M0,659 L996,659 Q992,690 977.5,718.5 L0,718.5 Z" fill="url(#fg)" filter="url(#sh)"/>
  <path d="M1032,660 L1280,660 L1280,720 L1010,720 Q1016,685 1032,660 Z" fill="url(#fg)"/>
</svg>
<div class="t" style="left:30.5px;top:672.3px;font-size:31px;line-height:34px;font-weight:bold;color:#1aa6e2;transform:scaleY(0.97);-webkit-text-stroke:0.5px #1aa6e2">倍加信智慧通行解决方案</div>
<svg class="a" style="left:1070px;top:668px" width="50" height="44" viewBox="1070 668 50 44"><g fill="#1ba6e6">
<rect x="1080" y="690.3" width="5.8" height="14"/>
<path d="M1087.6,690.5 L1096,680.5 Q1098,676.2 1100.5,676.8 Q1103.2,678 1102.3,683 L1101.2,687.4 L1108.2,687.4 Q1111,688 1110.6,690.8 Q1111.6,693 1110.3,695.2 Q1111.4,697.5 1110.1,699.6 Q1110.8,703.2 1107.8,704.3 L1087.6,704.3 Z"/>
</g></svg>
<div class="t" style="left:1115.5px;top:674.5px;font-size:31.5px;line-height:34px;font-weight:bold;color:#1ba6e6;transform:scaleY(0.89);-webkit-text-stroke:0.8px #1ba6e6">倍加信</div>

</body></html>
